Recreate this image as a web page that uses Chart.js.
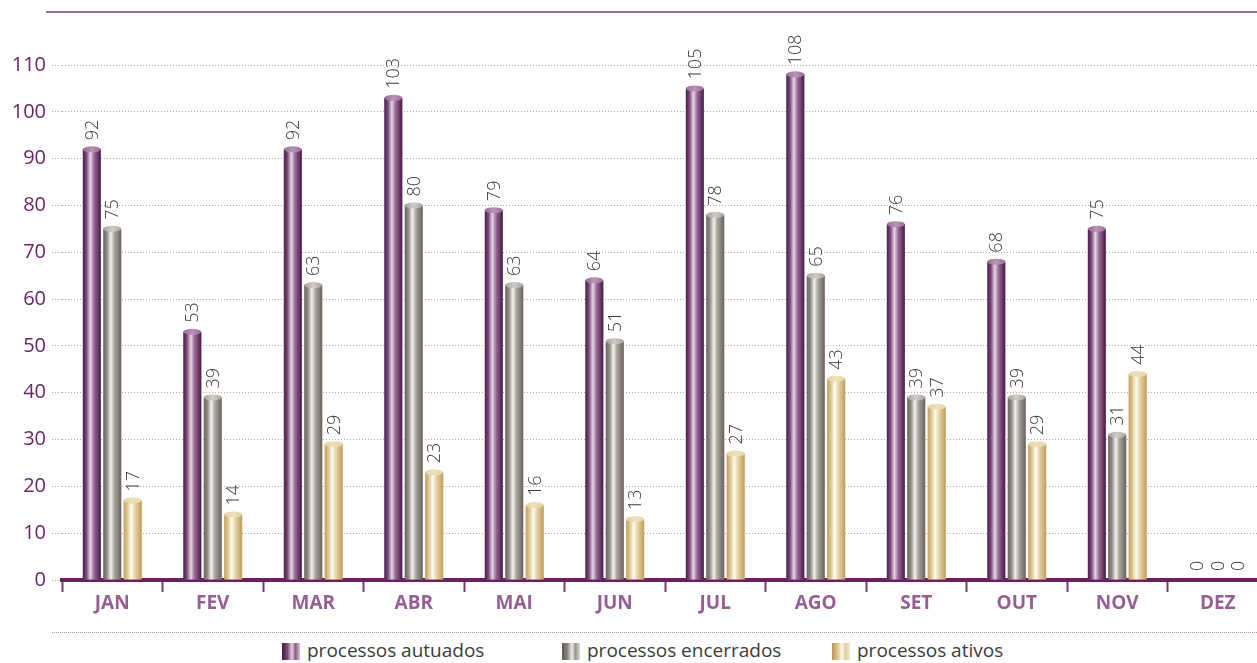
<!DOCTYPE html>
<html>
<head>
<meta charset="utf-8">
<script src="https://cdn.jsdelivr.net/npm/chart.js@4"></script>
<style>
  html, body { margin: 0; padding: 0; background: #fff; }
  #wrap { position: relative; width: 1257px; height: 663px; overflow: hidden; }
  #chart { position: absolute; left: 0; top: 0; }
  #legendline { position: absolute; left: 52px; top: 632px; width: 1205px; border-top: 1px dotted #b895b6; }
  .leg { position: absolute; top: 639px; font-family: "Open Sans", sans-serif; font-size: 19px; color: #3c3c3c; line-height: 22px; white-space: nowrap; }
  .leg i { display: inline-block; width: 18px; height: 17px; vertical-align: -3px; margin-right: 7px; }
</style>
</head>
<body>
<div id="wrap">
  <canvas id="chart" width="1270" height="620"></canvas>
  <div id="legendline"></div>
  <div class="leg" style="left:282px"><i style="background:linear-gradient(90deg,#4a1646,#7a4a78 30%,#e2d0e2 55%,#8c5c8a 75%,#d6c2d6)"></i>processos autuados</div>
  <div class="leg" style="left:562px"><i style="background:linear-gradient(90deg,#5f5a55,#8a8680 30%,#f0eeea 55%,#9a968f 75%,#e0deda)"></i>processos encerrados</div>
  <div class="leg" style="left:832px"><i style="background:linear-gradient(90deg,#b8945a,#d8c28c 30%,#fffaee 55%,#e0cc9c 75%,#f6ecd4)"></i>processos ativos</div>
</div>
<script>
const meses = ['JAN','FEV','MAR','ABR','MAI','JUN','JUL','AGO','SET','OUT','NOV','DEZ'];
const autuados   = [92, 53, 92, 103, 79, 64, 105, 108, 76, 68, 75, 0];
const encerrados = [75, 39, 63, 80, 63, 51, 78, 65, 39, 39, 31, 0];
const ativos     = [17, 14, 29, 23, 16, 13, 27, 43, 37, 29, 44, 0];
const yTicks = [0, 10, 20, 30, 40, 50, 60, 70, 80, 90, 100, 110];

// cylinder shading per series: edge, mid, highlight, mid, edge, cap
const shades = [
  ['#4e1a4c', '#7a4a78', '#e6d6e6', '#9a6c98', '#4a1646', '#b894b6'],
  ['#6a6560', '#8e8a84', '#f4f2ee', '#a8a49e', '#67625c', '#cfcbc5'],
  ['#c2a060', '#dcc690', '#fffcf2', '#e6d4a8', '#bf9c5a', '#eee0bc']
];

const cylinderBars = {
  id: 'cylinderBars',
  beforeDraw(chart) {
    const ctx = chart.ctx;
    ctx.save();
    ctx.strokeStyle = '#9c6c9a';
    ctx.lineWidth = 2;
    ctx.beginPath();
    ctx.moveTo(46, 12);
    ctx.lineTo(chart.width, 12);
    ctx.stroke();
    ctx.restore();
  },
  afterDatasetsDraw(chart) {
    const ctx = chart.ctx;
    chart.data.datasets.forEach((ds, i) => {
      const meta = chart.getDatasetMeta(i);
      const c = shades[i];
      meta.data.forEach((bar, j) => {
        const v = ds.data[j];
        const x = bar.x, y = bar.y, w = bar.width, base = bar.base;
        const l = x - w / 2, r = x + w / 2;
        ctx.save();
        if (v > 0) {
          const g = ctx.createLinearGradient(l, 0, r, 0);
          g.addColorStop(0, c[0]);
          g.addColorStop(0.2, c[1]);
          g.addColorStop(0.42, c[2]);
          g.addColorStop(0.62, c[3]);
          g.addColorStop(1, c[4]);
          ctx.fillStyle = g;
          ctx.fillRect(l, y, w, base - y);
          // top cap
          const gc = ctx.createLinearGradient(l, 0, r, 0);
          gc.addColorStop(0, c[3]);
          gc.addColorStop(0.5, c[5]);
          gc.addColorStop(1, c[3]);
          ctx.fillStyle = gc;
          ctx.beginPath();
          ctx.ellipse(x, y, w / 2, 3, 0, 0, Math.PI * 2);
          ctx.fill();
        }
        // value label, rotated
        ctx.translate(x, y - 9);
        ctx.rotate(-Math.PI / 2);
        ctx.fillStyle = '#3a3a3a';
        ctx.font = '300 18px "Open Sans", sans-serif';
        ctx.textAlign = 'left';
        ctx.textBaseline = 'middle';
        ctx.fillText(String(v), 0, 1);
        ctx.restore();
      });
    });
  }
};

new Chart(document.getElementById('chart'), {
  type: 'bar',
  data: {
    labels: meses,
    datasets: [
      { label: 'processos autuados', data: autuados },
      { label: 'processos encerrados', data: encerrados },
      { label: 'processos ativos', data: ativos }
    ]
  },
  options: {
    responsive: false,
    animation: false,
    devicePixelRatio: 1,
    layout: { padding: { top: 65, right: 2, left: 0, bottom: 0 } },
    datasets: {
      bar: {
        backgroundColor: 'rgba(0,0,0,0)',
        borderWidth: 0,
        categoryPercentage: 0.61,
        barPercentage: 0.88
      }
    },
    plugins: { legend: { display: false }, tooltip: { enabled: false } },
    scales: {
      x: {
        afterFit(s) { s.height = 40; },
        border: { color: '#6b1f62', width: 4 },
        grid: {
          drawOnChartArea: false,
          drawTicks: true,
          tickLength: 12,
          tickColor: '#7a3a72',
          tickWidth: 2
        },
        ticks: {
          padding: 0,
          color: '#955f93',
          font: { family: 'Open Sans', size: 19, weight: 'bold' }
        }
      },
      y: {
        min: 0,
        max: 110,
        afterFit(s) { s.width = 62; },
        afterBuildTicks(s) { s.ticks = yTicks.map(v => ({ value: v })); },
        border: { display: false, dash: [1, 2] },
        grid: {
          color: '#c29ac0',
          lineWidth: 1,
          tickBorderDash: [1, 2],
          tickLength: 10,
          drawTicks: true
        },
        ticks: {
          padding: 6,
          color: '#6b2466',
          font: { family: 'Open Sans', size: 20 }
        }
      }
    }
  },
  plugins: [cylinderBars]
});
</script>
</body>
</html>
